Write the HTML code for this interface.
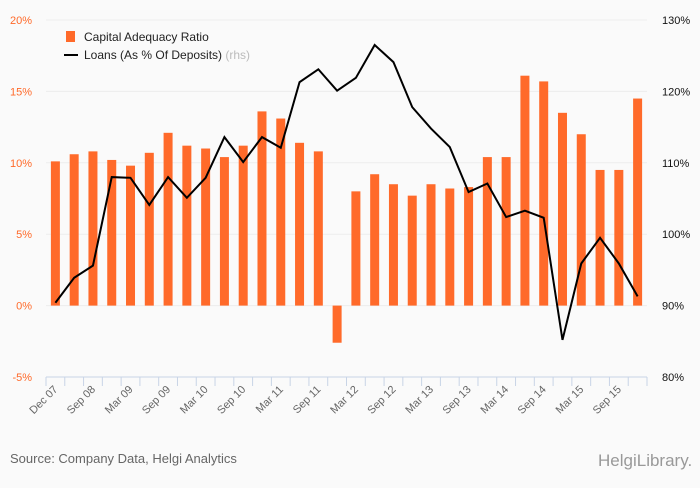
<!DOCTYPE html>
<html><head><meta charset="utf-8"><style>
body{margin:0;background:#fafafa;font-family:"Liberation Sans",sans-serif;}
svg text{font-family:"Liberation Sans",sans-serif;}
</style></head><body>
<svg id="c" width="700" height="483" xmlns="http://www.w3.org/2000/svg">
<rect width="700" height="483" fill="#fafafa"/>
<g id="grid"></g><g id="bars"></g><g id="line"></g><g id="axes"></g>
<g>
<rect x="66" y="31" width="9" height="11" fill="#ff6a2a"/>
<text x="84" y="41" font-size="12" fill="#222">Capital Adequacy Ratio</text>
<line x1="64" y1="55" x2="78" y2="55" stroke="#000" stroke-width="2"/>
<text x="84" y="59" font-size="12" fill="#222">Loans (As % Of Deposits) <tspan fill="#bbb">(rhs)</tspan></text>
</g>
<text x="10" y="463" font-size="13" fill="#666">Source: Company Data, Helgi Analytics</text>
<text x="598" y="466" font-size="17" fill="#999">HelgiLibrary.</text>
</svg>
<script>
const categories=["Dec 07","Mar 08","Jun 08","Sep 08","Dec 08","Mar 09","Jun 09","Sep 09","Dec 09","Mar 10","Jun 10","Sep 10","Dec 10","Mar 11","Jun 11","Sep 11","Dec 11","Mar 12","Jun 12","Sep 12","Dec 12","Mar 13","Jun 13","Sep 13","Dec 13","Mar 14","Jun 14","Sep 14","Dec 14","Mar 15","Jun 15","Sep 15"];
const carValues=[10.1,10.6,10.8,10.2,9.8,10.7,12.1,11.2,11.0,10.4,11.2,13.6,13.1,11.4,10.8,-2.6,8.0,9.2,8.5,7.7,8.5,8.2,8.3,10.4,10.4,16.1,15.7,13.5,12.0,9.5,9.5,14.5];
const loanValues=[90.4,93.9,95.6,108.0,107.9,104.1,108.0,105.1,107.9,113.6,110.1,113.6,112.1,121.3,123.1,120.1,121.9,126.5,124.1,117.8,114.8,112.2,105.9,107.1,102.4,103.3,102.3,85.2,95.9,99.5,95.9,91.3];
const leftTicks=[-5,0,5,10,15,20];
const rightTicks=[80,90,100,110,120,130];
const xLabels=["Dec 07","Sep 08","Mar 09","Sep 09","Mar 10","Sep 10","Mar 11","Sep 11","Mar 12","Sep 12","Mar 13","Sep 13","Mar 14","Sep 14","Mar 15","Sep 15"];
const NS="http://www.w3.org/2000/svg";
const X0=46,X1=647,YT=20,YB=377;
const step=(X1-X0)/categories.length;
const xc=i=>X0+step*(i+0.5);
const yl=v=>YB-(v+5)/25*(YB-YT);
const yr=v=>YB-(v-80)/50*(YB-YT);
function mk(t,a,p){const e=document.createElementNS(NS,t);for(const k in a)e.setAttribute(k,a[k]);p.appendChild(e);return e;}
const g=document.getElementById('grid'),b=document.getElementById('bars'),l=document.getElementById('line'),ax=document.getElementById('axes');
leftTicks.forEach(v=>{
 const ln=mk('line',{x1:X0,x2:X1,y1:yl(v),y2:yl(v),stroke:'#ededed','stroke-width':1},g);
 
 
 const t=mk('text',{x:32,y:yl(v)+4,'font-size':11,fill:'#ff6a2a','text-anchor':'end'},ax);t.textContent=v+'%';
 
 
});
rightTicks.forEach(v=>{
 const t=mk('text',{x:662,y:yr(v)+4,'font-size':11,fill:'#111'},ax);t.textContent=v+'%';
 
 
});
carValues.forEach((v,i)=>{
 const y0=yl(0),y=yl(v);
 const r=mk('rect',{x:xc(i)-4.5,y:Math.min(y,y0),width:9,height:Math.abs(y0-y),fill:'#ff6a2a'},b);
 
 
});
const p=mk('polyline',{points:loanValues.map((v,i)=>xc(i)+','+yr(v)).join(' '),fill:'none',stroke:'#000','stroke-width':2},l);


const axl=mk('line',{x1:X0,x2:X1,y1:YB,y2:YB,stroke:'#c8d4e6','stroke-width':1},ax);


for(let i=0;i<=categories.length;i++){
 const tk=mk('line',{x1:X0+step*i,x2:X0+step*i,y1:YB,y2:YB+9,stroke:'#c8d4e6'},ax);
 
 
}
xLabels.forEach((s,k)=>{
 const x=xc(k*2)+3,y=YB+13;
 const t=mk('text',{x:x,y:y,'font-size':11,fill:'#666','text-anchor':'end',transform:`rotate(-45 ${x} ${y})`},ax);
 t.textContent=s;
 
 
});
</script>
</body></html>
